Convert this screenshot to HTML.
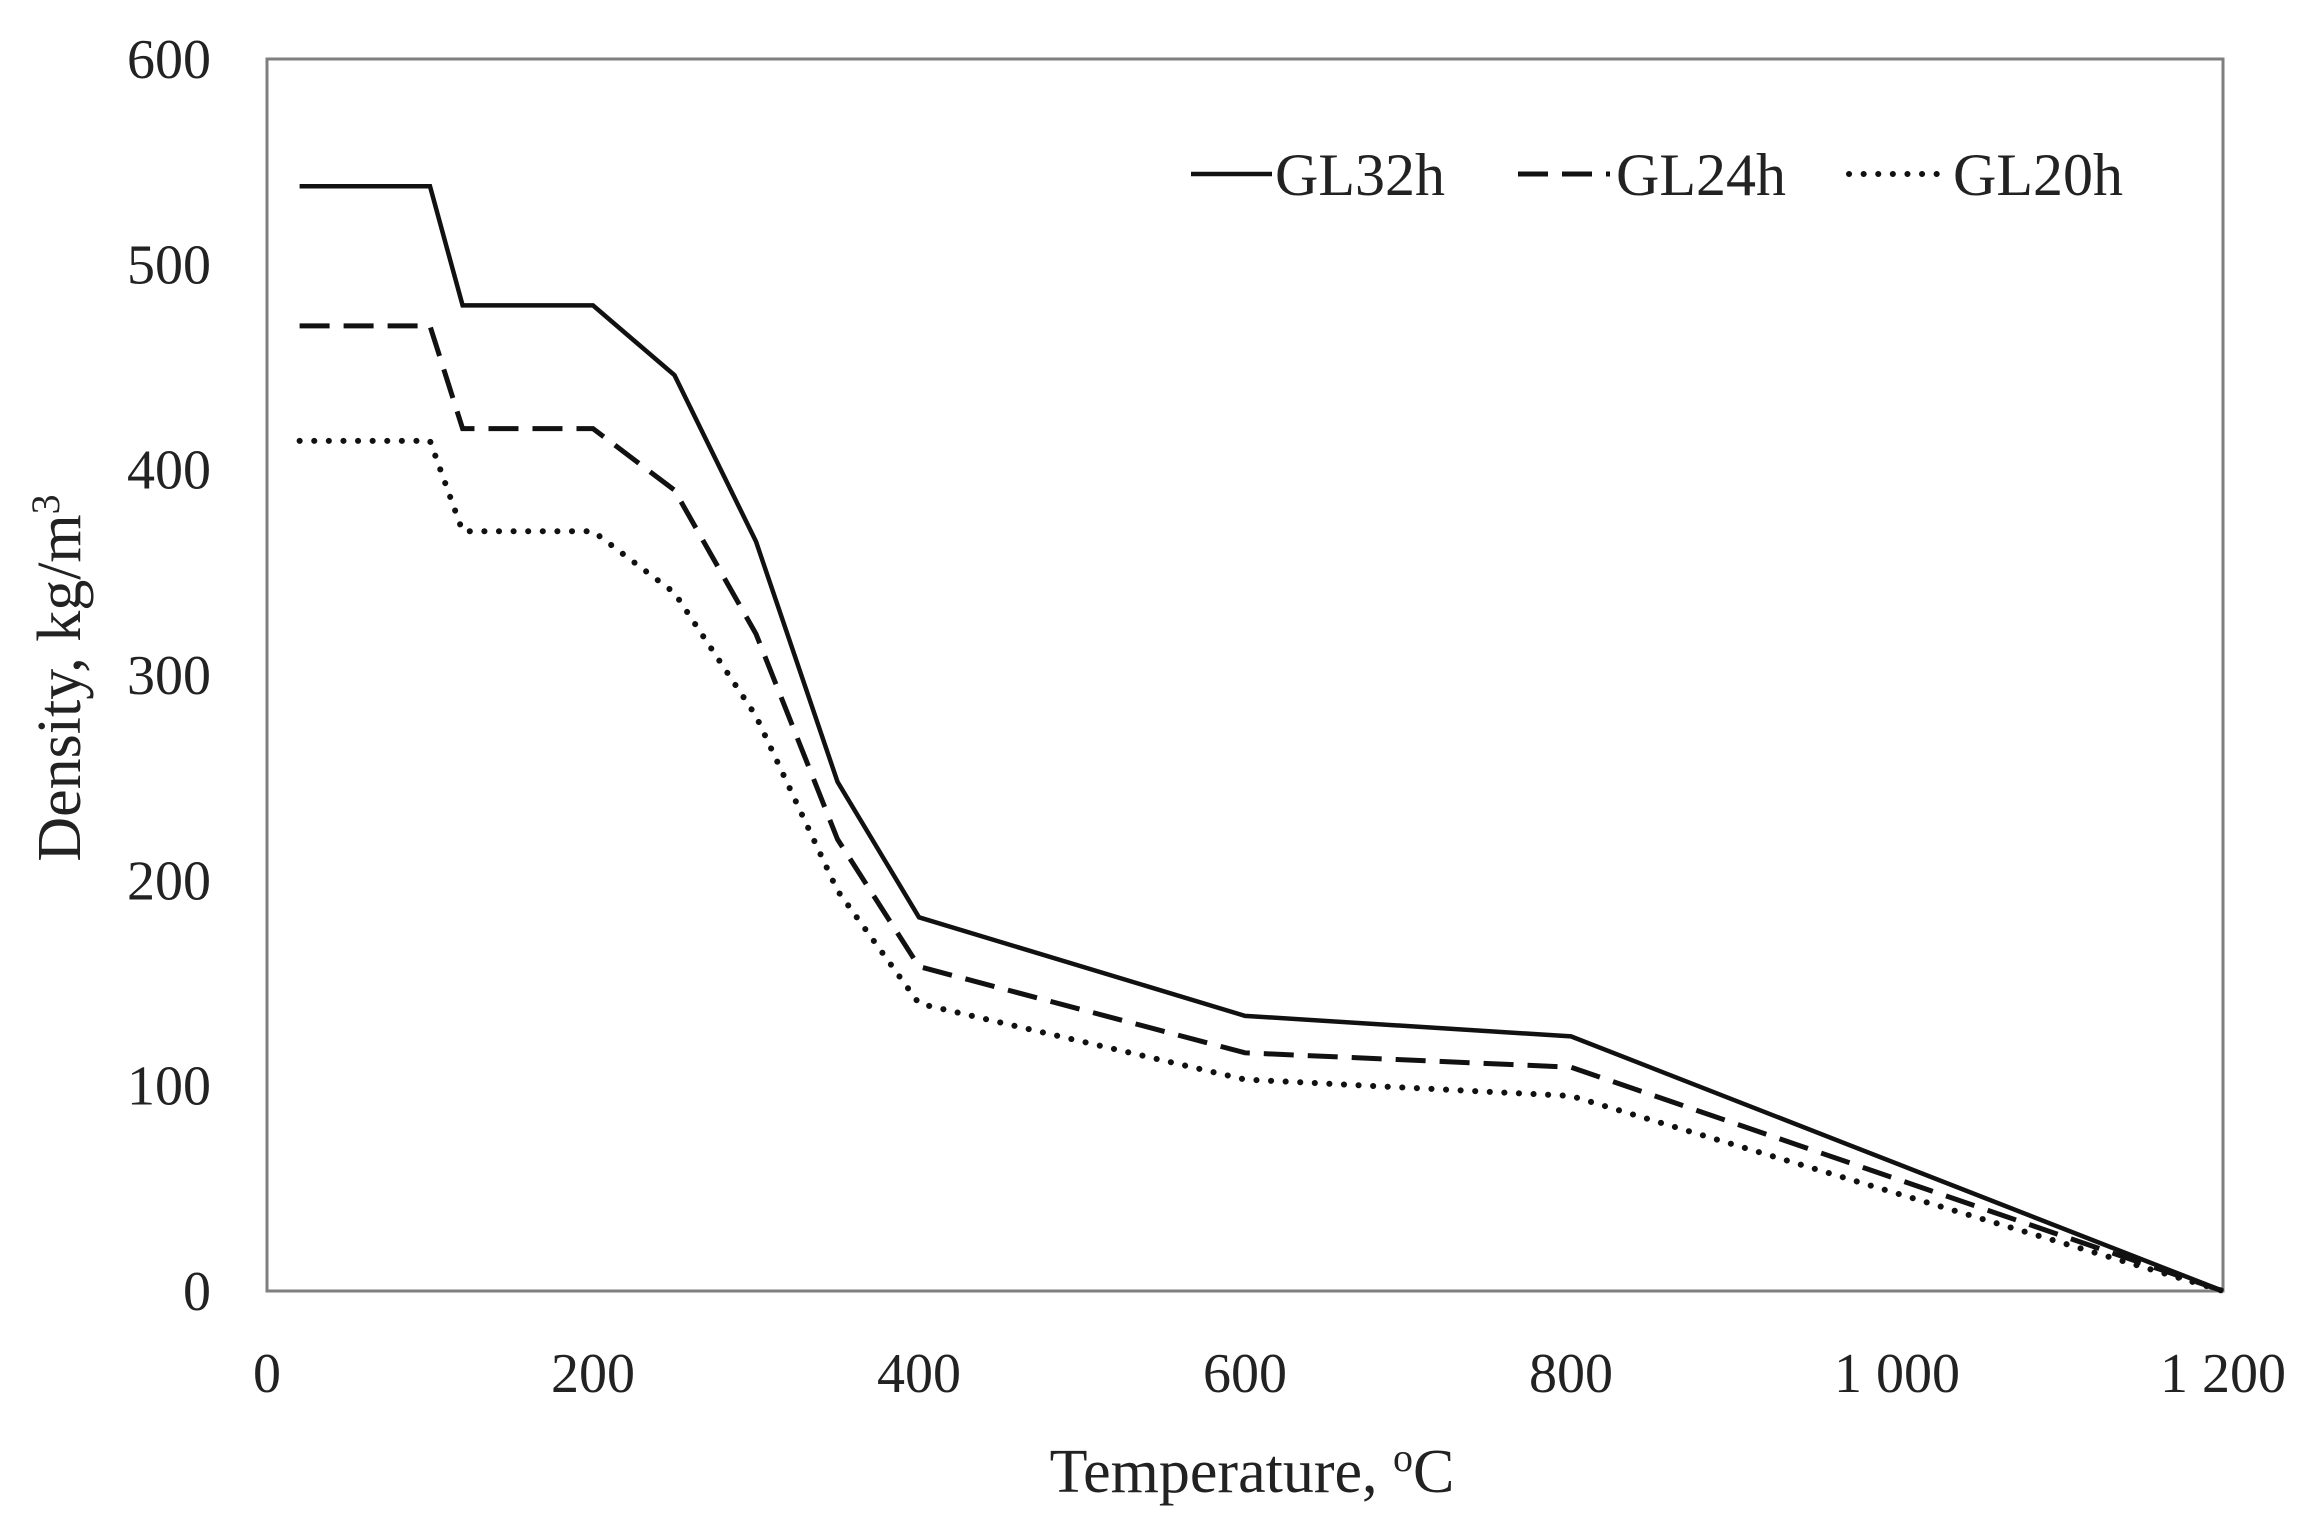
<!DOCTYPE html>
<html><head><meta charset="utf-8"><style>
html,body{margin:0;padding:0;background:#fff}
svg{display:block}
text{font-family:"Liberation Serif",serif;fill:#222}
</style></head><body>
<svg id="chart" width="2311" height="1538" viewBox="0 0 2311 1538">
<rect x="267" y="59" width="1956" height="1232" fill="none" stroke="#7f7f7f" stroke-width="3"/>
<g id="yticks"></g>
<g id="xticks"></g>
<g id="series"></g>
<text x="1252" y="1492" font-size="62" text-anchor="middle">Temperature, <tspan font-size="40" dy="-21">o</tspan><tspan dy="21">C</tspan></text>
<text transform="translate(80,678) rotate(-90)" font-size="62" text-anchor="middle">Density, kg/m<tspan font-size="40" dy="-21">3</tspan></text>
<g>
<line x1="1191" y1="174" x2="1272" y2="174" stroke="#111" stroke-width="4.5"/>
<text x="1275" y="195" font-size="60">GL32h</text>
<line x1="1518" y1="174" x2="1610" y2="174" stroke="#111" stroke-width="5" stroke-dasharray="30,14"/>
<text x="1616" y="195" font-size="60">GL24h</text>
<line x1="1849" y1="174" x2="1948" y2="174" stroke="#111" stroke-width="6" stroke-dasharray="0.1,14.5" stroke-linecap="round"/>
<text x="1953" y="195" font-size="60">GL20h</text>
</g>
</svg>
<script>
const temps = [20,100,120,200,250,300,350,400,600,800,1200];
const gl32 = [538,538,480,480,446,365,248,182,134,124,0];
const gl24 = [470,470,420,420,390,320,220,158,116,109,0];
const gl20 = [414,414,370,370,340,280,195,140,103,95,0];
const yTicks = [0,100,200,300,400,500,600];
const xTicks = [0,200,400,600,800,1000,1200];
const xTickLabels = ["0","200","400","600","800","1 000","1 200"];

const L=267,R=2223,T=59,B=1291;
const xs=v=>L+(v/1200)*(R-L);
const ys=v=>B-(v/600)*(B-T);
const NS="http://www.w3.org/2000/svg";
const yg=document.getElementById('yticks');
yTicks.forEach(t=>{
  const e=document.createElementNS(NS,'text');
  
  
  e.setAttribute('x',211);e.setAttribute('y',ys(t)+19);
  e.setAttribute('font-size','56');e.setAttribute('text-anchor','end');
  e.textContent=t;yg.appendChild(e);
});
const xg=document.getElementById('xticks');
xTicks.forEach((t,i)=>{
  const e=document.createElementNS(NS,'text');
  
  
  e.setAttribute('x',xs(t));e.setAttribute('y',1392);
  e.setAttribute('font-size','56');e.setAttribute('text-anchor','middle');
  e.textContent=xTickLabels[i];xg.appendChild(e);
});
const sg=document.getElementById('series');
function draw(vals,name,dash,w,cap){
  const p=document.createElementNS(NS,'polyline');
  
  
  p.setAttribute('points',temps.map((t,i)=>xs(t)+','+ys(vals[i])).join(' '));
  p.setAttribute('fill','none');p.setAttribute('stroke','#111');
  p.setAttribute('stroke-width',w);
  if(dash)p.setAttribute('stroke-dasharray',dash);
  if(cap)p.setAttribute('stroke-linecap',cap);
  sg.appendChild(p);
}
draw(gl32,'line-gl32h',null,4.5,null);
draw(gl24,'line-gl24h','30,14',5,null);
draw(gl20,'line-gl20h','0.1,14.5',6,'round');
</script>
</body></html>
